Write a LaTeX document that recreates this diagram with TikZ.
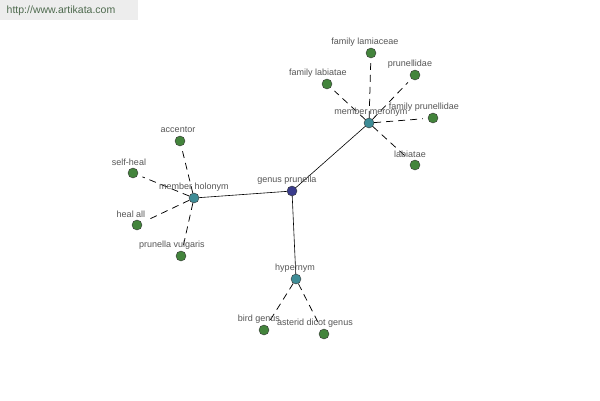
\documentclass[tikz,border=0pt]{standalone}
\usepackage{fontspec}
\setmainfont{Liberation Sans}
\usetikzlibrary{positioning}
\definecolor{leafgreen}{HTML}{43843C}
\definecolor{relteal}{HTML}{3E8C96}
\definecolor{rootblue}{HTML}{3A3C8C}
\definecolor{lblgray}{HTML}{555555}
\definecolor{sitegreen}{HTML}{4E6A4E}

\begin{document}
\begin{tikzpicture}[x=1pt, y=-1pt,
  vert/.style={circle, draw=black!80, line width=0.4pt, minimum size=10pt, inner sep=0pt},
  lbl/.style={font=\fontsize{9}{10}\selectfont, text=lblgray, inner sep=0pt},
  link/.style={black, line width=0.6pt},
  weak/.style={black, line width=0.75pt, dash pattern=on 7pt off 5pt,
               shorten <=0pt, shorten >=5pt}]
\useasboundingbox (0,0) rectangle (600,400);
\fill[black!7] (0,0) rectangle (138,20);
\node[font=\fontsize{10.5}{12}\selectfont, text=sitegreen] (site) at (61,11) {http://www.artikata.com};

% vertices
\foreach \n/\x/\y/\c in {gp/292/191/rootblue, mm/369/123/relteal, mh/194/198/relteal,
    hy/296/279/relteal, fl/371/53/leafgreen, pd/415/75/leafgreen, fb/327/84/leafgreen,
    fp/433/118/leafgreen, lb/415/165/leafgreen, ac/180/141/leafgreen, sh/133/173/leafgreen,
    ha/137/225/leafgreen, pv/181/256/leafgreen, bg/264/330/leafgreen, ad/324/334/leafgreen}
  \node[vert, fill=\c] (\n) at (\x,\y) {};

% relations
\foreach \b in {mm,mh,hy}
  \draw[link] (gp) -- (\b);
\foreach \a/\b in {mm/fl, mm/pd, mm/fb, mm/fp, mm/lb, mh/ac, mh/sh, mh/ha, mh/pv, hy/bg, hy/ad}
  \draw[weak] (\a) -- (\b);

% labels
\foreach \n/\x/\y/\t in {gp/287/191/genus prunella, mm/371/123/member meronym,
    mh/194/198/member holonym, hy/295/279/hypernym, fl/365/53/family lamiaceae,
    pd/410/75/prunellidae, fb/318/84/family labiatae, fp/424/118/family prunellidae,
    lb/410/165/labiatae, ac/178/141/accentor, sh/129/173/self-heal, ha/131/225/heal all,
    pv/172/256/prunella vulgaris, bg/259/330/bird genus, ad/315/334/asterid dicot genus}
  \node[lbl] (\n-t) at ({\x},{\y-11}) {\t};
\end{tikzpicture}
\end{document}
